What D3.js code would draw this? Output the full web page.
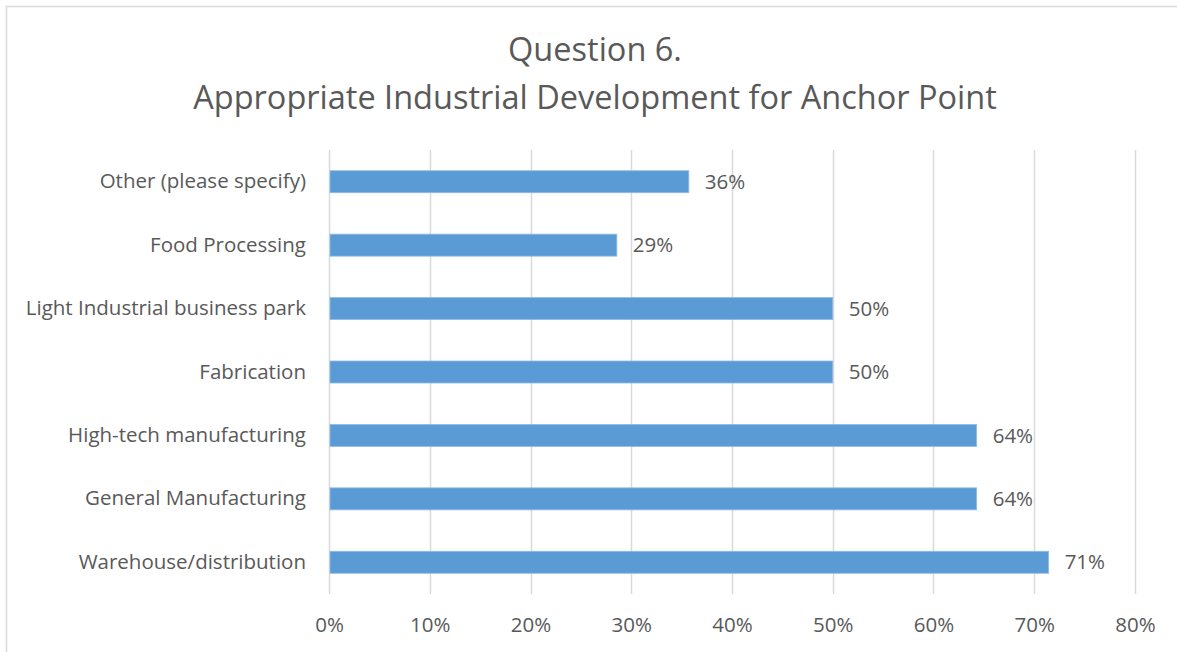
<!DOCTYPE html>
<html>
<head>
<meta charset="utf-8">
<script src="https://cdn.jsdelivr.net/npm/d3@7/dist/d3.min.js"></script>
<style>
  html, body { margin: 0; padding: 0; background: #fff; }
  svg { display: block; }
  text { font-family: "Open Sans", "Noto Sans", sans-serif; fill: #595959; }
</style>
</head>
<body>
<svg id="chart" width="1177" height="652"></svg>
<script>
// Survey responses (share of respondents), listed top to bottom
const categories = [
  "Other (please specify)",
  "Food Processing",
  "Light Industrial business park",
  "Fabrication",
  "High-tech manufacturing",
  "General Manufacturing",
  "Warehouse/distribution"
];
const shares = [5/14, 4/14, 7/14, 7/14, 9/14, 9/14, 10/14];
const xTicks = [0, 0.1, 0.2, 0.3, 0.4, 0.5, 0.6, 0.7, 0.8];
const titleLines = ["Question 6.", "Appropriate Industrial Development for Anchor Point"];

const data = categories.map((c, i) => ({ category: c, value: shares[i] }));

const svg = d3.select("#chart");
const W = 1177, H = 652;
const plot = { left: 329, right: 1135, top: 150, bottom: 594 };
const labelSize = "20.5px";

// Outer chart frame
svg.append("rect")
  .attr("x", 6.5).attr("y", 6.5)
  .attr("width", W).attr("height", H)
  .attr("fill", "#fff")
  .attr("stroke", "#D9D9D9")
  .attr("stroke-width", 1.5);

// Title
svg.append("g")
  .selectAll("text")
  .data(titleLines)
  .join("text")
  .attr("x", 595)
  .attr("y", (d, i) => 61 + i * 47.5)
  .attr("text-anchor", "middle")
  .style("font-size", "32.5px")
  .text(d => d);

const x = d3.scaleLinear().domain([0, 0.8]).range([plot.left, plot.right]);
const y = d3.scaleBand()
  .domain(categories)
  .range([plot.top, plot.bottom])
  .paddingInner(0.653)
  .paddingOuter(0.3265);

// Vertical gridlines
svg.append("g")
  .selectAll("line")
  .data(xTicks)
  .join("line")
  .attr("x1", d => Math.round(x(d)) + 0.5)
  .attr("x2", d => Math.round(x(d)) + 0.5)
  .attr("y1", plot.top)
  .attr("y2", plot.bottom)
  .attr("stroke", "#D9D9D9")
  .attr("stroke-width", 1.5);

// X axis tick labels
const xAxis = d3.axisBottom(x)
  .tickValues(xTicks)
  .tickFormat(d3.format(".0%"))
  .tickSize(0)
  .tickPadding(0);
const gx = svg.append("g")
  .attr("transform", `translate(0, ${plot.bottom + 24})`)
  .call(xAxis);
gx.select(".domain").remove();
gx.selectAll("text")
  .attr("dy", "0.7em")
  .style("font-size", labelSize)
  .style("font-family", '"Open Sans", "Noto Sans", sans-serif')
  .attr("fill", "#595959");

// Category labels
const yAxis = d3.axisLeft(y).tickSize(0).tickPadding(23);
const gy = svg.append("g")
  .attr("transform", `translate(${plot.left}, 0)`)
  .call(yAxis);
gy.select(".domain").remove();
gy.selectAll("text")
  .style("font-size", labelSize)
  .style("font-family", '"Open Sans", "Noto Sans", sans-serif')
  .attr("fill", "#595959");

// Bars
svg.append("g")
  .selectAll("rect")
  .data(data)
  .join("rect")
  .attr("x", x(0) + 1)
  .attr("y", d => y(d.category))
  .attr("width", d => x(d.value) - x(0) - 1)
  .attr("height", y.bandwidth())
  .attr("fill", "#5B9BD5")
  .attr("stroke", "#8FBCE6")
  .attr("stroke-width", 0.8);

// Value labels
svg.append("g")
  .selectAll("text")
  .data(data)
  .join("text")
  .attr("x", d => x(d.value) + 16)
  .attr("y", d => y(d.category) + y.bandwidth() / 2)
  .attr("dy", "0.35em")
  .style("font-size", labelSize)
  .attr("fill", "#404040")
  .text(d => d3.format(".0%")(d.value));
</script>
</body>
</html>
